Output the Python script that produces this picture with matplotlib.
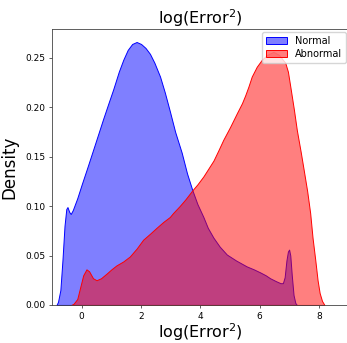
import matplotlib
matplotlib.use("Agg")
import matplotlib.pyplot as plt

# density curves (log squared error)
normal_x = [-0.85, -0.80, -0.72, -0.65, -0.58, -0.52, -0.48, -0.42, -0.37, -0.30,
            -0.15, 0.00, 0.20, 0.45, 0.72, 0.90, 1.06, 1.25, 1.40, 1.55,
            1.70, 1.85, 2.00, 2.15, 2.30, 2.45, 2.64, 2.80, 2.97, 3.15,
            3.37, 3.55, 3.73, 3.90, 4.10, 4.25, 4.44, 4.65, 4.89, 5.20,
            5.56, 5.80, 6.01, 6.20, 6.35, 6.55, 6.70, 6.78, 6.84, 6.90,
            6.95, 6.99, 7.03, 7.08, 7.14, 7.20, 7.25]
normal_y = [0.000, 0.003, 0.015, 0.045, 0.080, 0.097, 0.099, 0.094, 0.092, 0.096,
            0.108, 0.122, 0.140, 0.163, 0.188, 0.204, 0.218, 0.236, 0.248, 0.258,
            0.264, 0.266, 0.264, 0.260, 0.254, 0.245, 0.231, 0.215, 0.196, 0.175,
            0.154, 0.133, 0.116, 0.102, 0.089, 0.078, 0.068, 0.059, 0.051, 0.045,
            0.039, 0.036, 0.033, 0.030, 0.027, 0.024, 0.022, 0.022, 0.028, 0.045,
            0.054, 0.056, 0.050, 0.030, 0.010, 0.002, 0.000]

abnormal_x = [-0.35, -0.28, -0.15, -0.05, 0.05, 0.16, 0.25, 0.38, 0.50, 0.65,
              0.85, 1.00, 1.17, 1.40, 1.62, 1.85, 2.07, 2.30, 2.52, 2.75,
              2.97, 3.08, 3.30, 3.50, 3.73, 3.90, 4.10, 4.27, 4.44, 4.60,
              4.77, 5.00, 5.23, 5.40, 5.51, 5.62, 5.73, 5.90, 6.07, 6.25,
              6.46, 6.65, 6.86, 6.95, 7.03, 7.15, 7.25, 7.38, 7.48, 7.60,
              7.70, 7.78, 7.87, 7.95, 8.02, 8.10, 8.18]
abnormal_y = [0.000, 0.001, 0.006, 0.018, 0.030, 0.036, 0.034, 0.027, 0.025, 0.027,
              0.032, 0.036, 0.040, 0.044, 0.049, 0.057, 0.066, 0.072, 0.078, 0.084,
              0.089, 0.093, 0.100, 0.107, 0.116, 0.122, 0.130, 0.138, 0.146, 0.156,
              0.167, 0.180, 0.194, 0.204, 0.212, 0.221, 0.231, 0.241, 0.248, 0.253,
              0.256, 0.253, 0.245, 0.236, 0.221, 0.198, 0.177, 0.155, 0.137, 0.115,
              0.093, 0.068, 0.046, 0.025, 0.012, 0.004, 0.000]

fig = plt.figure(figsize=(3.47, 3.43), dpi=100)
ax = fig.add_axes([0.150, 0.111, 0.855, 0.804])

ax.fill_between(normal_x, normal_y, facecolor=(0, 0, 1, 0.5),
                edgecolor=(0, 0, 1, 1), linewidth=0.7, label='Normal')
ax.fill_between(abnormal_x, abnormal_y, facecolor=(1, 0, 0, 0.5),
                edgecolor=(1, 0, 0, 1), linewidth=0.7, label='Abnormal')

ax.set_xlim(-1.0, 9.0)
ax.set_ylim(0, 0.279)
ax.set_xticks([0, 2, 4, 6, 8])
ax.set_yticks([0.00, 0.05, 0.10, 0.15, 0.20, 0.25])
ax.tick_params(labelsize=6.5, length=2.5, width=0.6, color='#444444', pad=2.5)
for s in ax.spines.values():
    s.set_linewidth(0.6)
    s.set_color('#444444')

ax.set_title('log(Error$^2$)', fontsize=11.5, pad=4)
ax.set_xlabel('log(Error$^2$)', fontsize=11.5, labelpad=0)
ax.set_ylabel('Density', fontsize=12, labelpad=5)
ax.legend(loc='upper right', fontsize=7, handlelength=2.2, borderaxespad=0.3,
          labelspacing=0.3)

fig.savefig('out.png', dpi=100)
